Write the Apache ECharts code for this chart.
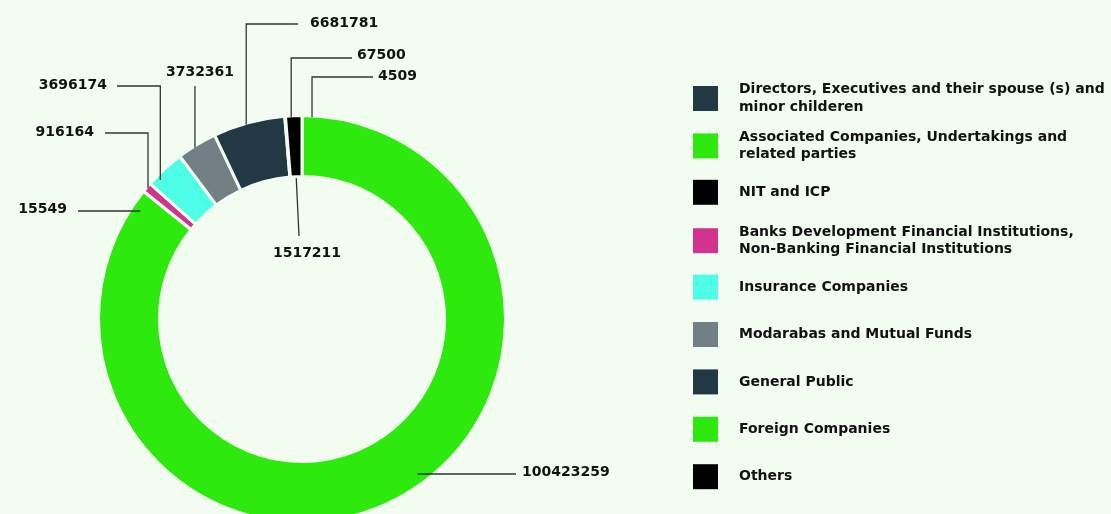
<!DOCTYPE html>
<html>
<head>
<meta charset="utf-8">
<title>Pattern of Shareholding</title>
<script src="https://cdn.jsdelivr.net/npm/echarts@6/dist/echarts.min.js"></script>
<style>
  html, body { margin: 0; padding: 0; background: #f3fcf0; }
  #chart { width: 1111px; height: 514px; }
</style>
</head>
<body>
<div id="chart"></div>
<script>
// Shareholder categories (legend order = slice order, clockwise from 12 o'clock)
const categories = [
  'Directors, Executives and their spouse (s) and\nminor childeren',
  'Associated Companies, Undertakings and\nrelated parties',
  'NIT and ICP',
  'Banks Development Financial Institutions,\nNon-Banking Financial Institutions',
  'Insurance Companies',
  'Modarabas and Mutual Funds',
  'General Public',
  'Foreign Companies',
  'Others'
];

// Number of shares held by each category
const holdings = [4509, 100423259, 15549, 916164, 3696174, 3732361, 6681781, 67500, 1517211];

const sliceColors = ['#223845', '#2de90d', '#000000', '#d1338f', '#4dfde5', '#718084', '#223845', '#2de90d', '#000000'];

const BG = '#f3fcf0';
const FONT = 'DejaVu Sans';

// Ring geometry (pixels)
const CX = 302, CY = 319, R_OUT = 202, R_IN = 144, GAP = 3;

// Value label placement and leader-line routing, one entry per slice
const labelSpots = [
  { kind: 'elbow', tx: 378, ty: 76, lineY: 77, align: 'left', shift: 10, gap: 5 },
  { kind: 'flat', tx: 522, ty: 472, lineY: 474, align: 'left', inset: 14, gap: 6 },
  { kind: 'flat', tx: 67, ty: 209, lineY: 211, align: 'right', inset: 9, gap: 11 },
  { kind: 'elbow', tx: 94, ty: 132, lineY: 133, align: 'right', shift: 0, gap: 11 },
  { kind: 'elbow', tx: 107, ty: 85, lineY: 86, align: 'right', shift: -5, gap: 10, sink: 5 },
  { kind: 'above', tx: 200, ty: 72, lineY: 86, align: 'center', shift: -2.5 },
  { kind: 'elbow', tx: 310, ty: 23, lineY: 24, align: 'left', shift: -3, gap: 12 },
  { kind: 'elbow', tx: 357, ty: 55, lineY: 58, align: 'left', shift: 6, gap: 5 },
  { kind: 'below', tx: 307, ty: 253, lineY: 236, align: 'center', endDx: -8 }
];

// Mid-angle of each slice (radians), clockwise from 90 degrees
const total = holdings.reduce((a, b) => a + b, 0);
const midAngles = [];
let acc = 0;
holdings.forEach(v => {
  const mid = 90 - (acc + v / 2) / total * 360;
  midAngles.push(mid * Math.PI / 180);
  acc += v;
});

function ringYAt(x) {
  const dx = x - CX;
  return CY - Math.sqrt(Math.max(0, R_OUT * R_OUT - dx * dx));
}

function placeLabel(params) {
  const i = params.dataIndex;
  const s = labelSpots[i];
  const a = midAngles[i];
  let pts;
  if (s.kind === 'elbow' || s.kind === 'above') {
    const lx = CX + R_OUT * Math.cos(a) + s.shift;
    const ly = ringYAt(lx) + (s.sink || 0);
    let ex = lx;
    if (s.kind === 'elbow') ex = s.align === 'left' ? s.tx - s.gap : s.tx + s.gap;
    pts = [[lx, ly], [lx, s.lineY], [ex, s.lineY]];
  } else if (s.kind === 'flat') {
    const dy = s.lineY - CY;
    const rx = Math.sqrt(R_OUT * R_OUT - dy * dy);
    const sx = s.align === 'left' ? CX + rx - s.inset : CX - rx + s.inset;
    const ex = s.align === 'left' ? s.tx - s.gap : s.tx + s.gap;
    pts = [[sx, s.lineY], [(sx + ex) / 2, s.lineY], [ex, s.lineY]];
  } else {
    const r = R_IN - 3;
    const sx = CX + r * Math.cos(a), sy = CY - r * Math.sin(a);
    const ex = s.tx + s.endDx;
    pts = [[sx, sy], [(sx + ex) / 2, (sy + s.lineY) / 2], [ex, s.lineY]];
  }
  return {
    x: s.tx,
    y: s.ty,
    align: s.align,
    verticalAlign: 'middle',
    labelLinePoints: pts,
    hideOverlap: false,
    moveOverlap: false
  };
}

const legendStep = 47.4, legendFirst = 97.5, legendLineH = 17.5;

const pieData = categories.map((name, i) => ({
  name: name,
  value: holdings[i],
  itemStyle: { color: sliceColors[i] }
}));

const ringBase = {
  type: 'pie',
  center: [CX, CY],
  radius: [R_IN - GAP / 2, R_OUT + GAP / 2],
  startAngle: 90,
  clockwise: true,
  avoidLabelOverlap: false,
  silent: true,
  emphasis: { disabled: true }
};

const chart = echarts.init(document.getElementById('chart'), null, { renderer: 'canvas' });

chart.setOption({
  backgroundColor: BG,
  animation: false,
  legend: categories.map((name, i) => {
    const lines = name.split('\n').length;
    const boxH = Math.max(25, lines * legendLineH);
    return {
      orient: 'vertical',
      left: 693,
      top: legendFirst + i * legendStep - boxH / 2 + (lines > 1 ? 1 : 0),
      padding: 0,
      itemWidth: 25,
      itemHeight: 25,
      icon: 'rect',
      selectedMode: false,
      data: [name],
      itemStyle: { borderWidth: 0 },
      textStyle: {
        fontFamily: FONT,
        fontWeight: 'bold',
        fontSize: 14,
        lineHeight: legendLineH,
        color: '#111111',
        padding: [0, 0, 0, 16]
      }
    };
  }),
  series: [
    // the coloured ring
    Object.assign({}, ringBase, {
      z: 2,
      itemStyle: { borderColor: BG, borderWidth: GAP },
      label: { show: false },
      labelLine: { show: false },
      data: pieData
    }),
    // value labels and leader lines, layered above the ring
    Object.assign({}, ringBase, {
      z: 5,
      itemStyle: { color: 'transparent', borderWidth: 0 },
      label: {
        show: true,
        position: 'outside',
        formatter: p => String(p.value),
        fontFamily: FONT,
        fontWeight: 'bold',
        fontSize: 14,
        color: '#111111'
      },
      labelLine: {
        show: true,
        smooth: false,
        minTurnAngle: 0,
        maxSurfaceAngle: 180,
        lineStyle: { color: '#333333', width: 1.3 }
      },
      labelLayout: placeLabel,
      data: pieData.map(d => ({ name: d.name, value: d.value, itemStyle: { color: 'transparent' } }))
    })
  ]
});
</script>
</body>
</html>
